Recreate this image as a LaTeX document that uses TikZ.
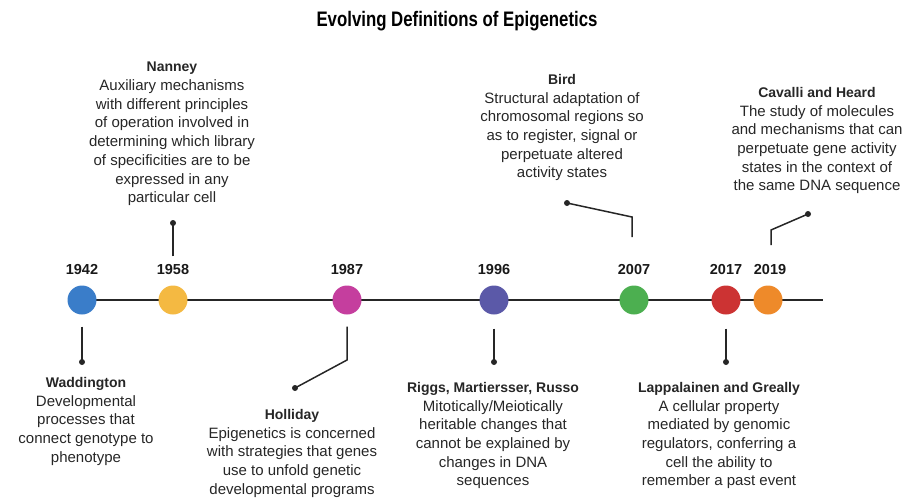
\documentclass[tikz,border=0pt]{standalone}
\usepackage{fontspec}
\setmainfont{Liberation Sans}
\newfontfamily\titlefont[FakeStretch=0.8]{Liberation Sans}
\usepackage{tikz}

\definecolor{cBlue}{HTML}{3A7DC9}
\definecolor{cYellow}{HTML}{F4B942}
\definecolor{cMagenta}{HTML}{C53E9E}
\definecolor{cPurple}{HTML}{5B59A8}
\definecolor{cGreen}{HTML}{4CAF50}
\definecolor{cRed}{HTML}{CC3333}
\definecolor{cOrange}{HTML}{EE8A2A}

\newcommand{\who}[1]{{\fontsize{14}{18.7}\selectfont\bfseries #1}}

\tikzset{
  year/.style={font=\bfseries\fontsize{14.5}{16}\selectfont, text=black!90},
  blob/.style={circle, minimum size=29pt, inner sep=0pt},
  pin/.style={circle, fill=black!85, minimum size=6pt, inner sep=0pt},
  info/.style={align=center, inner sep=0pt, anchor=north,
    font=\fontsize{15}{18.7}\selectfont, text=black!85},
  stem/.style={line width=1.5pt, black!85},
}

\begin{document}
\begin{tikzpicture}[x=1pt, y=-1pt]
    \useasboundingbox (0, 0) rectangle (913, 499);

    \node [font=\titlefont\bfseries\fontsize{21}{24}\selectfont] (title) at (457, 21) {Evolving Definitions of Epigenetics};

    % timeline
    \coordinate (tlend) at (823, 300);
    \draw [line width=2.2pt, black!85] (82, 300) -- (tlend);

    \node [blob, fill=cBlue] (c1942) at (82, 300) {};
    \node [blob, fill=cYellow] (c1958) at (173, 300) {};
    \node [blob, fill=cMagenta] (c1987) at (347, 300) {};
    \node [blob, fill=cPurple] (c1996) at (494, 300) {};
    \node [blob, fill=cGreen] (c2007) at (634, 300) {};
    \node [blob, fill=cRed] (c2017) at (726, 300) {};
    \node [blob, fill=cOrange] (c2019) at (768, 300) {};

    \node [year] (y1942) at (82, 270) {1942};
    \node [year] (y1958) at (173, 270) {1958};
    \node [year] (y1987) at (347, 270) {1987};
    \node [year] (y1996) at (494, 270) {1996};
    \node [year] (y2007) at (634, 270) {2007};
    \node [year] (y2017) at (726, 270) {2017};
    \node [year] (y2019) at (770, 270) {2019};

    % pins
    \node [pin] (p1942) at (82, 362) {};
    \node [pin] (p1958) at (173, 223) {};
    \node [pin] (p1987) at (295, 388) {};
    \node [pin] (p1996) at (494, 362) {};
    \node [pin] (p2007) at (567, 203) {};
    \node [pin] (p2017) at (726, 362) {};
    \node [pin] (p2019) at (808, 214) {};

    \coordinate (k1987) at (347, 360);
    \coordinate (k2007) at (632, 217);
    \coordinate (k2019) at (771, 230);

    \draw [stem] (c1942.south) ++(0, 12) -- (p1942.center);
    \draw [stem] (y1958.north) ++(0, -5) -- (p1958.center);
    \draw [stem] (c1987.south) ++(0, 12) -- (k1987) -- (p1987.center);
    \draw [stem] (c1996.south) ++(0, 14) -- (p1996.center);
    \draw [stem] (632, 237) -- (k2007) -- (p2007.center);
    \draw [stem] (c2017.south) ++(0, 14) -- (p2017.center);
    \draw [stem] (771, 245) -- (k2019) -- (p2019.center);

    % texts
    \node [info] (nanney) at (172, 62) {\who{Nanney}\\Auxiliary mechanisms\\with different principles\\of operation involved in\\determining which library\\of specificities are to be\\expressed in any\\particular cell};
    \node [info] (bird) at (562, 74) {\who{Bird}\\Structural adaptation of\\chromosomal regions so\\as to register, signal or\\perpetuate altered\\activity states};
    \node [info] (cavalli) at (817, 87) {\who{Cavalli and Heard}\\The study of molecules\\and mechanisms that can\\perpetuate gene activity\\states in the context of\\the same DNA sequence};
    \node [info] (waddington) at (86, 377) {\who{Waddington}\\Developmental\\processes that\\connect genotype to\\phenotype};
    \node [info] (holliday) at (292, 409) {\who{Holliday}\\Epigenetics is concerned\\with strategies that genes\\use to unfold genetic\\developmental programs};
    \node [info] (riggs) at (493, 382) {\who{Riggs, Martiersser, Russo}\\Mitotically/Meiotically\\heritable changes that\\cannot be explained by\\changes in DNA\\sequences};
    \node [info] (lappalainen) at (719, 382) {\who{Lappalainen and Greally}\\A cellular property\\mediated by genomic\\regulators, conferring a\\cell the ability to\\remember a past event};
\end{tikzpicture}
\end{document}
